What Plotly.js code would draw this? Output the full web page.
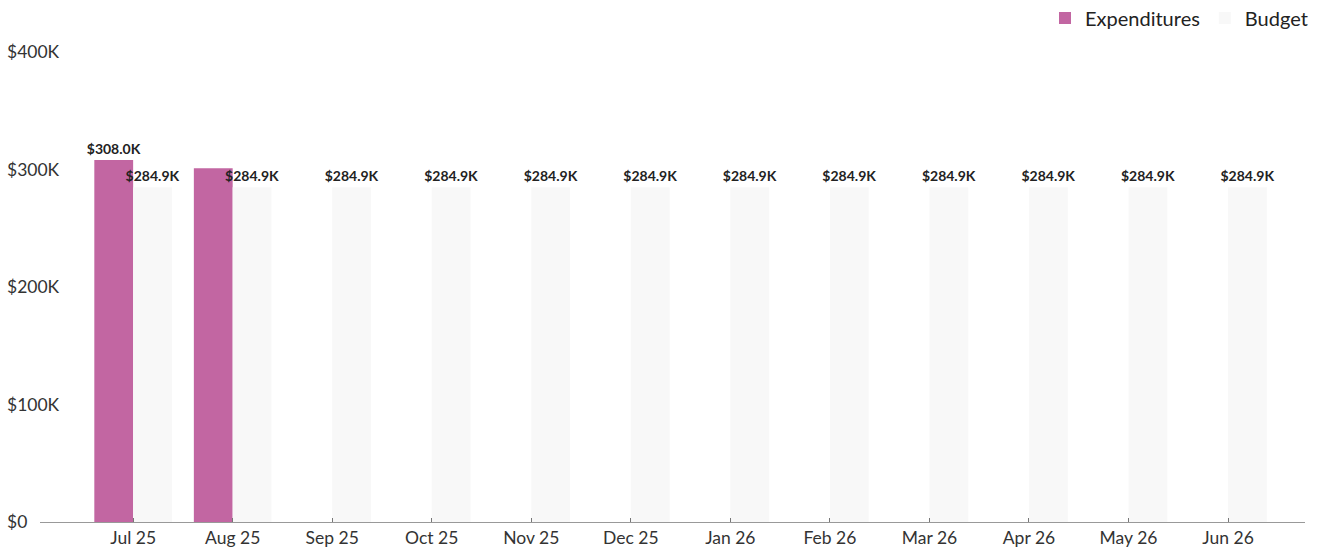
<!DOCTYPE html>
<html>
<head>
<meta charset="utf-8">
<script src="https://cdn.plot.ly/plotly-3.0.1.min.js"></script>
<style>html,body{margin:0;padding:0;background:#fff;}#chart{width:1320px;height:551px;}</style>
</head>
<body>
<div id="chart"></div>
<script>
var months = ["Jul 25","Aug 25","Sep 25","Oct 25","Nov 25","Dec 25","Jan 26","Feb 26","Mar 26","Apr 26","May 26","Jun 26"];
var expenditures = [308000, 301000, null, null, null, null, null, null, null, null, null, null];
var expenditureLabels = ["$308.0K", "", "", "", "", "", "", "", "", "", "", ""];
var budget = [284900, 284900, 284900, 284900, 284900, 284900, 284900, 284900, 284900, 284900, 284900, 284900];
var yTickVals = [0, 100000, 200000, 300000, 400000];
var yTickText = ["$0", "$100K", "$200K", "$300K", "$400K"];

function fmtK(v){ return v == null ? "" : "$" + (v/1000).toFixed(1) + "K"; }

var fontFam = "Lato, 'Open Sans', sans-serif";
var traces = [
  {
    type: "bar", name: "Expenditures", x: months, y: expenditures,
    marker: {color: "#c266a2"},
    text: expenditureLabels, textposition: "outside", cliponaxis: false,
    constraintext: "none",
    textfont: {family: fontFam, size: 14, color: "#222", weight: 700},
    hoverinfo: "x+y"
  },
  {
    type: "bar", name: "Budget", x: months, y: budget,
    marker: {color: "#f8f8f8"},
    text: budget.map(fmtK), textposition: "outside", cliponaxis: false,
    constraintext: "none",
    textfont: {family: fontFam, size: 14, color: "#222", weight: 700},
    hoverinfo: "x+y"
  }
];

var layout = {
  width: 1320, height: 551,
  margin: {l: 6, r: 15, t: 52, b: 29, pad: 0},
  paper_bgcolor: "#fff", plot_bgcolor: "#fff",
  font: {family: fontFam, size: 17.5, color: "#333"},
  barmode: "group", bargap: 0.22, bargroupgap: 0,
  showlegend: true,
  legend: {orientation: "h", xref: "container", yref: "container",
           x: 1313/1320, xanchor: "right", y: 1 - 18/551, yanchor: "middle",
           font: {family: fontFam, size: 20, color: "#222"}, traceorder: "normal"},
  xaxis: {
    domain: [0.0263, 1],
    range: [-0.934, 11.773],
    type: "category",
    showgrid: false, zeroline: false,
    showline: true, linecolor: "#999", linewidth: 1,
    ticks: "inside", ticklen: 4, tickcolor: "#777",
    tickfont: {family: fontFam, size: 17.5, color: "#333"}
  },
  yaxis: {
    range: [0, 400000],
    anchor: "free", position: 0, side: "right",
    tickvals: yTickVals, ticktext: yTickText,
    showgrid: false, zeroline: false, showline: false, ticks: "",
    tickfont: {family: fontFam, size: 17.5, color: "#333"}
  }
};

Plotly.newPlot("chart", traces, layout, {displayModeBar: false, staticPlot: true});
</script>
</body>
</html>
